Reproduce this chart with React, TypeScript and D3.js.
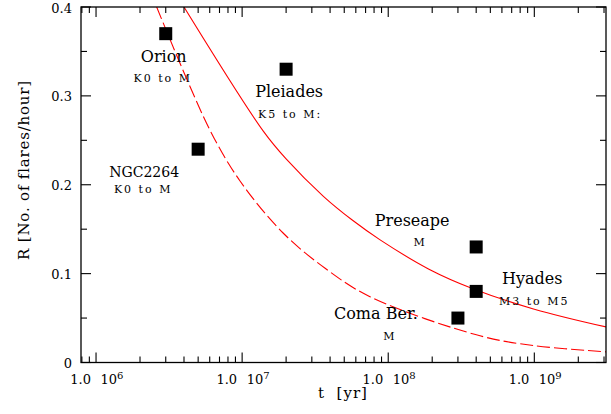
import React from 'react';
import * as d3 from 'd3';

const W = 611;
const H = 414;
const margin = { top: 7, right: 5, bottom: 51.5, left: 81 };

// observed clusters
const clusterNames = ['Orion', 'NGC2264', 'Pleiades', 'Preseape', 'Hyades', 'Coma Ber.'];
const clusterTypes = ['K0 to M', 'K0 to M', 'K5 to M:', 'M', 'M3 to M5', 'M'];
const clusterAge = [3e6, 5e6, 2e7, 4e8, 4e8, 3e8];
const clusterRate = [0.37, 0.24, 0.33, 0.13, 0.08, 0.05];

// curves (t in yr, R in flares/hour)
const solidAge = [4.0e6, 1.4e7, 2.0e7, 3.6e7, 5.7e7, 8.8e7, 1.9e8, 3.8e8, 1.0e9, 3.1e9];
const solidRate = [0.4, 0.26, 0.229, 0.187, 0.16, 0.138, 0.105, 0.083, 0.06, 0.04];
const dashedAge = [2.6e6, 6.0e6, 9.7e6, 1.9e7, 3.7e7, 7.5e7, 4.25e8, 1.0e9, 3.1e9];
const dashedRate = [0.4, 0.262, 0.204, 0.146, 0.106, 0.074, 0.03, 0.019, 0.012];

const yMajorTicks = [0, 0.1, 0.2, 0.3, 0.4];
const yMinorTicks = [0.05, 0.15, 0.25, 0.35];
const xTickExponents = [6, 7, 8, 9];

// label placement, pixel offsets from the marker
const nameOffsets = [[-2, 28], [-54, 28], [3, 28], [-64, -21], [56, -7], [-82, 1]];
const typeOffsets = [[-3, 48], [-55, 44], [4, 49], [-56, -1], [58, 14], [-68, 22]];

const FONT = '"DejaVu Serif", serif';

export default function App() {
  const x = d3.scaleLog().domain([7.89e5, 3.095e9]).range([margin.left, W - margin.right]);
  const y = d3.scaleLinear().domain([0, 0.4]).range([H - margin.bottom, margin.top]);
  const x0 = margin.left;
  const x1 = W - margin.right;
  const y0 = H - margin.bottom;
  const y1 = margin.top;

  const line = d3
    .line<[number, number]>()
    .x((d) => x(d[0]))
    .y((d) => y(d[1]))
    .curve(d3.curveCatmullRom.alpha(0.5));

  const solid = line(solidAge.map((t, i) => [t, solidRate[i]]));
  const dashed = line(dashedAge.map((t, i) => [t, dashedRate[i]]));

  const xTicks = x.ticks();
  const isMajor = (t: number) => Math.abs(Math.log10(t) - Math.round(Math.log10(t))) < 1e-6;

  const major = 10;
  const minor = 6;

  return (
    <svg
      width={W}
      height={H}
      style={{ position: 'absolute', left: 0, top: 0, background: '#fff' }}
      fontFamily={FONT}
    >
      <defs>
        <clipPath id="plot">
          <rect x={x0} y={y1} width={x1 - x0} height={y0 - y1} />
        </clipPath>
      </defs>

      {/* curves */}
      <g clipPath="url(#plot)" fill="none" stroke="#ff0000" strokeWidth={1.1}>
        <path d={solid || ''} />
        <path d={dashed || ''} strokeDasharray="13,4" />
      </g>

      {/* frame */}
      <rect x={x0} y={y1} width={x1 - x0} height={y0 - y1} fill="none" stroke="#000" strokeWidth={1.3} />

      {/* ticks on all four sides */}
      <g stroke="#000" strokeWidth={1.1}>
        {xTicks.map((t, i) => {
          const len = isMajor(t) ? major : minor;
          const px = x(t);
          return (
            <g key={i}>
              <line x1={px} x2={px} y1={y0} y2={y0 - len} />
              <line x1={px} x2={px} y1={y1} y2={y1 + len} />
            </g>
          );
        })}
        {yMajorTicks.concat(yMinorTicks).map((v, i) => {
          const len = yMajorTicks.includes(v) ? major : minor;
          const py = y(v);
          return (
            <g key={'y' + i}>
              <line x1={x0} x2={x0 + len} y1={py} y2={py} />
              <line x1={x1} x2={x1 - len} y1={py} y2={py} />
            </g>
          );
        })}
      </g>

      {/* y tick labels */}
      {yMajorTicks.map((v) => (
        <text key={v} x={72} y={y(v) + 5.5} fontSize={13} textAnchor="end">
          {v === 0 ? '0' : v.toFixed(1)}
        </text>
      ))}

      {/* x tick labels */}
      {xTickExponents.map((e) => {
        const px = x(Math.pow(10, e));
        return (
          <g key={e}>
            <text x={px - 5} y={y0 + 21} fontSize={13} textAnchor="end">
              1.0
            </text>
            <text x={px + 4.5} y={y0 + 21} fontSize={13}>
              10
              <tspan fontSize={10} dy={-5}>
                {e}
              </tspan>
            </text>
          </g>
        );
      })}

      {/* axis titles */}
      <text x={343} y={398} fontSize={15} textAnchor="middle" letterSpacing={1} style={{ whiteSpace: 'pre' }}>
        {'t  [yr]'}
      </text>
      <text
        transform="translate(29,170) rotate(-90)"
        fontSize={15}
        textAnchor="middle"
        letterSpacing={0.8}
      >
        R [No. of flares/hour]
      </text>

      {/* markers */}
      {clusterNames.map((name, i) => {
        const px = x(clusterAge[i]);
        const py = y(clusterRate[i]);
        return (
          <g key={name}>
            <rect x={px - 6.5} y={py - 6.5} width={13} height={13} fill="#000" />
            <text
              x={px + nameOffsets[i][0]}
              y={py + nameOffsets[i][1]}
              fontSize={name === 'NGC2264' ? 15 : 16}
              textAnchor="middle"
              textLength={name === 'NGC2264' ? 70 : undefined}
              lengthAdjust={name === 'NGC2264' ? 'spacingAndGlyphs' : undefined}
            >
              {name}
            </text>
            <text
              x={px + typeOffsets[i][0]}
              y={py + typeOffsets[i][1]}
              fontSize={11}
              letterSpacing={2}
              textAnchor="middle"
            >
              {clusterTypes[i]}
            </text>
          </g>
        );
      })}
    </svg>
  );
}
